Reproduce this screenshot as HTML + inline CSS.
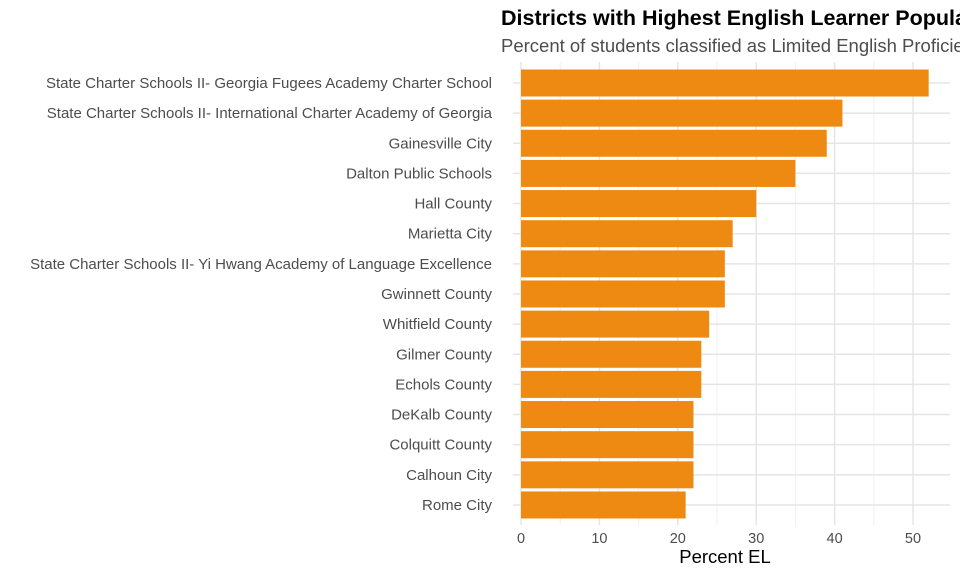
<!DOCTYPE html>
<html><head><meta charset="utf-8"><style>
body{margin:0;background:#fff;}
svg{display:block;font-family:"Liberation Sans",Arial,sans-serif;}
</style></head><body>
<svg id="s" width="960" height="576" viewBox="0 0 960 576">
<rect width="960" height="576" fill="#fff"/>
<g id="grid"></g>
<g id="bars"></g>
<text x="501" y="25" font-size="21.5" font-weight="bold" fill="#000">Districts with Highest English Learner Populations</text>
<text x="501" y="52" font-size="18.5" fill="#4d4d4d">Percent of students classified as Limited English Proficient</text>
<text x="725" y="563" font-size="18.5" text-anchor="middle" fill="#000">Percent EL</text>
</svg>
<script>
(function(){
var ns="http://www.w3.org/2000/svg";
var X0=521,K=7.84,T0=62,B0=525,R0=950;
var names=["State Charter Schools II- Georgia Fugees Academy Charter School","State Charter Schools II- International Charter Academy of Georgia","Gainesville City","Dalton Public Schools","Hall County","Marietta City","State Charter Schools II- Yi Hwang Academy of Language Excellence","Gwinnett County","Whitfield County","Gilmer County","Echols County","DeKalb County","Colquitt County","Calhoun City","Rome City"];
var vals=[52,41,39,35,30,27,26,26,24,23,23,22,22,22,21];
var g=document.getElementById("grid"),b=document.getElementById("bars");
function el(t,a,p){var e=document.createElementNS(ns,t);for(var q in a)e.setAttribute(q,a[q]);p.appendChild(e);return e;}
for(var v=5;v<=55;v+=10){var x=X0+v*K;if(x<R0)el("line",{x1:x,x2:x,y1:T0,y2:B0,stroke:"#f0f0f0","stroke-width":1},g);}
for(var v2=0;v2<=50;v2+=10){var x2=X0+v2*K;el("line",{x1:x2,x2:x2,y1:T0,y2:B0,stroke:"#e5e5e5","stroke-width":1.5},g);
var t=el("text",{x:x2,y:543,"font-size":14.5,"text-anchor":"middle",fill:"#4d4d4d"},g);t.textContent=v2;}
for(var i=0;i<names.length;i++){var cy=83+i*30.14;
el("line",{x1:X0-8,x2:R0,y1:cy,y2:cy,stroke:"#e5e5e5","stroke-width":1.5},g);
el("rect",{x:X0,y:cy-13.5,width:vals[i]*K,height:27,fill:"#EE8A12"},b);
var tt=el("text",{x:492,y:cy+5,"font-size":15,"text-anchor":"end",fill:"#4d4d4d"},b);tt.textContent=names[i];}
})();
</script>
</body></html>
